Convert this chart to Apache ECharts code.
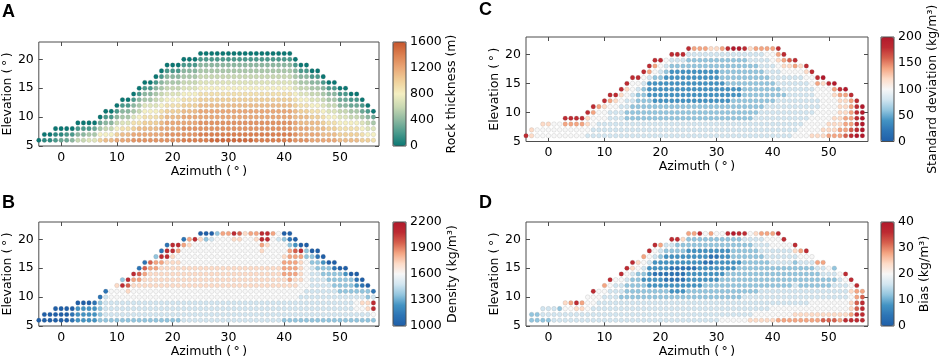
<!DOCTYPE html>
<html>
<head>
<meta charset="utf-8">
<script src="https://cdn.jsdelivr.net/npm/echarts@6/dist/echarts.min.js"></script>
<style>
  html, body { margin: 0; padding: 0; background: #fff; }
  #main { width: 941px; height: 360px; }
</style>
</head>
<body>
<div id="main"></div>
<script>
// grid of the dots
const azimuths = [-4, -3, -2, -1, 0, 1, 2, 3, 4, 5, 6, 7, 8, 9, 10, 11, 12, 13, 14, 15, 16, 17, 18, 19, 20,
  21, 22, 23, 24, 25, 26, 27, 28, 29, 30, 31, 32, 33, 34, 35, 36, 37, 38, 39, 40, 41, 42, 43, 44, 45,
  46, 47, 48, 49, 50, 51, 52, 53, 54, 55, 56];
const elevations = [6, 7, 8, 9, 10, 11, 12, 13, 14, 15, 16, 17, 18, 19, 20, 21];
const xTicks = [0, 10, 20, 30, 40, 50];
const yTicks = [5, 10, 15, 20];

// one string per azimuth column, bottom dot (elevation 6) first.
// each character is a level index (hex) into the panel's levels array
const thicknessLevels = [0, 100, 200, 300, 400, 500, 600, 700, 800, 900, 1000, 1100, 1200, 1300, 1400, 1500];
const thicknessTicks = [0, 400, 800, 1200, 1600];
const thicknessCols = [
  "0", "10", "10", "210", "310", "320", "420", "6420", "6420", "7520", "7530",
  "A8530", "B86420", "B86420", "CA86420", "CB975420", "CB975420", "DCA975420", "DCB9865420",
  "DCBA9875420", "DCBA9875420", "DCBA98765420", "DCCBA98765420",
  "DDCCBA98765420", "DDCCBA98765420", "DDCCBA98765420",
  "EDDCCBA98765420", "EDDCCBA98765420", "EDDCCBA98765420",
  "EEDDCCBA98765420", "EEDDCCBA98765420",
  "FEDDCCBA98765420", "FEDDCCBA98765420", "FEDDCCBA98765420", "FEDDCCBA98765420",
  "FEDDCCBA98765420", "FEDDCCBA98765420", "FEDDCCBA98765420", "FEDDCCBA98765420",
  "EEDDCCBA98765420", "EEDDCCBA98765420", "EEDDCCBA98765420", "EEDDCCBA98765420",
  "EEDDCCBA98765420", "EEDDCCBA98765420", "EEDDCCBA98765420",
  "DDCCBBA98765420", "DCCBBA98765420", "DCCBBA98765420", "CCBBA98765420", "CCBBA98765420",
  "CBBA98765420", "CBA98765420", "CBA98765420", "BA98764320", "BA98764320",
  "BA9865320", "BA9865320", "A9875320", "A876420", "987530"
];

const densityLevels = [1000, 1120, 1240, 1360, 1480, 1600, 1720, 1840, 1960, 2080, 2200];
const densityTicks = [1000, 1300, 1600, 1900, 2200];
const densityCols = [
  "0", "00", "00", "000", "000", "000", "110", "2220", "2220", "2220", "2221",
  "33331", "344441", "344455", "3444556", "34445593", "34445689", "344455679", "3444556781",
  "34445566781", "34445566678", "344455666773", "3444556666791",
  "34445566666991", "34445566666699", "34445566666579",
  "444455666655571", "444455666655567", "444455666655559",
  "4444556666555560", "4444556666555530", "4444556666555540", "4444556666555553",
  "4444556666555557", "4444556666555557", "4444556666555569", "4444556666555568",
  "4444556666555556", "4444556666555557", "4444556666555567", "4444556666556799",
  "4444556666555699", "4444556666555557", "4444556666555545", "3444556677765530",
  "3444556777777310", "344455667777820", "34444556666790", "34444455555330",
  "3444444444330", "3444444443310", "344444443320", "34444443330", "34444433310",
  "3444433330", "3444433320", "344443330", "345543210", "34564310", "3466330", "359941"
];

const stdLevels = [0, 20, 40, 60, 80, 100, 120, 140, 160, 180, 200];
const stdTicks = [0, 50, 100, 150, 200];
const stdCols = [
  "9", "66", "55", "556", "556", "555", "555", "5579", "5579", "5579", "5579",
  "45669", "445579", "444557", "4445569", "44444579", "44444569", "444444569", "4443344569",
  "44433344559", "44433333459", "444333333459", "4443333222479",
  "44433322223579", "44433322223459", "44433322222345",
  "444333222222349", "444333222222349", "444333222222349",
  "4443332222223349", "4443332222223347", "4443332222223347", "4443332222223347",
  "4443332222223346", "4443332222223346", "4443332222333347", "4443332223333349",
  "444333322333334A", "444333322333334A", "4443333333333349", "4443333333333446",
  "4444333333333447", "4444433333334447", "4444443333344457", "4444443333444557",
  "4444444334445679", "444444434445679", "44444444444568", "54444444444579",
  "5544444444456", "5554444444569", "655544444559", "65555445579", "6655555556A",
  "7665555559", "766655567A", "776666679", "87776667A", "98777779", "A999999", "AAAAAA"
];

const biasLevels = [0, 4, 8, 12, 16, 20, 24, 28, 32, 36, 40];
const biasTicks = [0, 10, 20, 30, 40];
const biasCols = [
  "", "33", "33", "344", "344", "444", "443", "4456", "4457", "4469", "4467",
  "44555", "444559", "444455", "4444457", "44444459", "44444445", "444434459", "4444333459",
  "44443333469", "44443333356", "444433323457", "4444332222459",
  "44443322122459", "44443322122347", "44443321122234",
  "444432211122349", "444432211122339", "444432211122336",
  "4444332221222337", "4444332221222337", "4444332222222339", "4444333222122335",
  "4444333222112337", "4444333222212335", "5444333322222335", "5444333332222339",
  "544433333223333A", "5444333333233339", "5444433333333349", "6444433333333345",
  "6544433333333446", "6544443333334447", "6544443333344457", "6554443333444557",
  "7554443333444559", "755444333344459", "75544433334445", "76544443333469",
  "7654443333457", "7654443333459", "765544333345", "76554433347", "86554433447",
  "8655443345", "8655444343", "765544445", "965544459", "97665659", "9988779", "999987"
];

const thicknessColors = ['#0b7773', '#4a9a8c', '#8cb8a0', '#c8d8b2', '#f4efc2', '#f0d09a', '#eaa877', '#dc8050', '#c6552c'];
const rdbuColors = ['#1f5fa8', '#2c74b5', '#4393c3', '#92c5de', '#d1e5f0', '#f7f7f7', '#fddbc7', '#f4a582', '#d6604d', '#bd2b32', '#b2182b'];

function toPoints(cols, levels) {
  const pts = [];
  cols.forEach((col, i) => {
    for (let k = 0; k < col.length; k++) {
      pts.push([azimuths[i], elevations[k], levels[parseInt(col[k], 16)]]);
    }
  });
  return pts;
}

const panels = [
  { letter: 'A', name: 'Rock thickness (m)', cols: thicknessCols, levels: thicknessLevels, ticks: thicknessTicks, colors: thicknessColors },
  { letter: 'B', name: 'Density (kg/m³)', cols: densityCols, levels: densityLevels, ticks: densityTicks, colors: rdbuColors },
  { letter: 'C', name: 'Standard deviation (kg/m³)', cols: stdCols, levels: stdLevels, ticks: stdTicks, colors: rdbuColors },
  { letter: 'D', name: 'Bias (kg/m³)', cols: biasCols, levels: biasLevels, ticks: biasTicks, colors: rdbuColors }
];

// positions in px
const layout = [
  { left: 38, top: 42, width: 341, height: 104, barLeft: 393, letterLeft: 2, letterTop: 3, nameGap: 39 },
  { left: 38, top: 222, width: 341, height: 104, barLeft: 393, letterLeft: 2, letterTop: 194, nameGap: 40 },
  { left: 526, top: 37, width: 342, height: 104.5, barLeft: 881, letterLeft: 479, letterTop: 1.5, nameGap: 32 },
  { left: 526, top: 222, width: 342, height: 104, barLeft: 881, letterLeft: 479, letterTop: 194, nameGap: 23 }
];

const font = 'DejaVu Sans';
const frame = '#4d4d4d';
const textStyle = { fontFamily: font, fontSize: 12.5, color: '#000' };
const plain = v => String(v);

const grids = [], xAxes = [], yAxes = [], series = [], visualMaps = [], titles = [];

panels.forEach((p, i) => {
  const L = layout[i];
  const g = grids.length;
  grids.push({ left: L.left, top: L.top, width: L.width, height: L.height, show: true, borderColor: frame, borderWidth: 1, backgroundColor: '#fff' });
  grids.push({ left: L.barLeft, top: L.top, width: 13, height: L.height, show: true, borderColor: frame, borderWidth: 1, backgroundColor: 'transparent', z: 10 });

  const xi = xAxes.length, yi = yAxes.length;
  const tick = { inside: true, length: 4, lineStyle: { color: frame } };
  const noLine = { show: false, onZero: false };
  xAxes.push(
    {
      gridIndex: g, type: 'value', min: -4, max: 57, position: 'bottom',
      axisLine: noLine, splitLine: { show: false },
      axisTick: Object.assign({ customValues: xTicks }, tick),
      axisLabel: Object.assign({ customValues: xTicks, margin: 5, formatter: plain }, textStyle),
      name: 'Azimuth (\u2009°\u2009)', nameLocation: 'middle', nameGap: 19, nameTextStyle: textStyle
    },
    {
      gridIndex: g, type: 'value', min: -4, max: 57, position: 'top',
      axisLine: noLine, splitLine: { show: false }, axisLabel: { show: false },
      axisTick: Object.assign({ customValues: xTicks }, tick)
    },
    { gridIndex: g + 1, type: 'value', min: 0, max: 1, show: false, axisLine: noLine }
  );
  yAxes.push(
    {
      gridIndex: g, type: 'value', min: 5, max: 23, position: 'left',
      axisLine: noLine, splitLine: { show: false },
      axisTick: Object.assign({ customValues: yTicks }, tick),
      axisLabel: Object.assign({ customValues: yTicks, margin: 5, formatter: plain }, textStyle),
      name: 'Elevation (\u2009°\u2009)', nameLocation: 'middle', nameGap: 23, nameRotate: 90, nameTextStyle: textStyle
    },
    {
      gridIndex: g, type: 'value', min: 5, max: 23, position: 'right',
      axisLine: noLine, splitLine: { show: false }, axisLabel: { show: false },
      axisTick: Object.assign({ customValues: yTicks }, tick)
    },
    {
      gridIndex: g + 1, type: 'value', position: 'right',
      min: p.ticks[0], max: p.ticks[p.ticks.length - 1],
      axisLine: noLine, axisTick: { show: false }, splitLine: { show: false },
      axisLabel: Object.assign({ customValues: p.ticks, margin: 4, formatter: plain }, textStyle),
      name: p.name, nameLocation: 'middle', nameRotate: 90, nameGap: L.nameGap, nameTextStyle: textStyle
    }
  );

  series.push({
    type: 'scatter', xAxisIndex: xi, yAxisIndex: yi,
    data: toPoints(p.cols, p.levels),
    symbol: 'circle', symbolSize: 4.6,
    itemStyle: { opacity: 1, borderColor: 'rgba(110,110,110,0.3)', borderWidth: 0.5 },
    silent: true, animation: false
  });

  visualMaps.push({
    type: 'continuous', seriesIndex: i, dimension: 2,
    min: p.ticks[0], max: p.ticks[p.ticks.length - 1],
    inRange: { color: p.colors },
    left: L.barLeft, top: L.top, itemWidth: 13, itemHeight: L.height,
    padding: 0, calculable: false, hoverLink: false, z: 1
  });

  titles.push({
    text: p.letter, left: L.letterLeft, top: L.letterTop, padding: 0,
    textStyle: { fontFamily: 'Liberation Sans', fontSize: 18, fontWeight: 'bold', color: '#000' }
  });
});

const chart = echarts.init(document.getElementById('main'));
chart.setOption({
  animation: false,
  backgroundColor: '#fff',
  title: titles,
  grid: grids,
  xAxis: xAxes,
  yAxis: yAxes,
  visualMap: visualMaps,
  series: series
});
</script>
</body>
</html>
